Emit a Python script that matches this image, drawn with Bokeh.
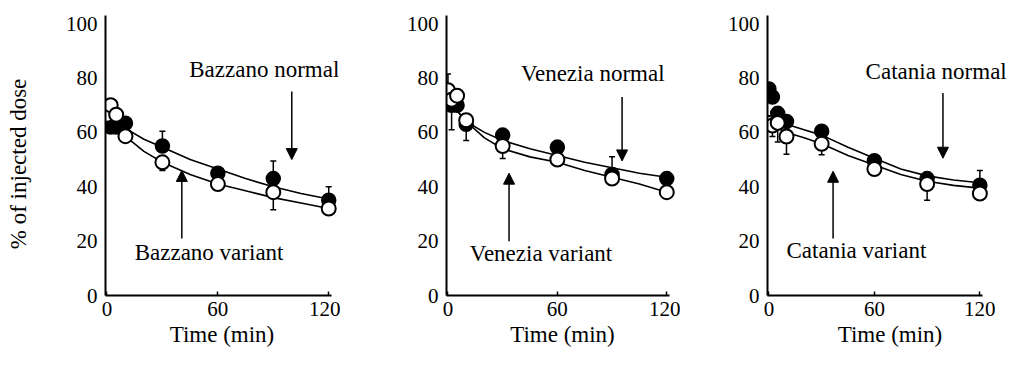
from math import pi
from bokeh.plotting import figure
from bokeh.layouts import row
from bokeh.models import (Range1d, FixedTicker, Label, Arrow, NormalHead,
                          Whisker, ColumnDataSource, TeeHead)
from bokeh.core.properties import value
from bokeh.embed import file_html
from bokeh.resources import INLINE

# ---------------- data ----------------
times = [0, 2, 5, 10, 30, 60, 90, 120]
curve_t = [0, 5, 10, 20, 30, 45, 60, 75, 90, 105, 120]

x_ticks = [0, 60, 120]
y_ticks = [0, 20, 40, 60, 80, 100]

baz_normal = [64, 62, 62, 63.4, 55, 45, 43, 35]
baz_normal_err = [0, 0, 0, 0, 5.4, 0, 6.5, 5]
baz_variant = [66.5, 70, 66.5, 58.6, 49, 41, 38, 32]
baz_variant_err = [0, 0, 0, 0, 3, 0, 6.5, 0]
baz_normal_fit = [63, 62.5, 61.5, 57.5, 54.5, 50, 46.5, 43, 40, 37.5, 35.5]
baz_variant_fit = [63, 61, 58.5, 53, 49, 44.5, 41, 38.5, 36, 34, 32]

ven_normal = [73.5, 70, 70, 63, 59, 54.5, 44.5, 43]
ven_normal_err = [8, 0, 0, 0, 0, 2.5, 6.5, 0]
ven_variant = [75.5, 72, 73.5, 64.5, 55, 50, 43, 38]
ven_variant_err = [0, 11, 0, 7.5, 4.6, 0, 0, 0]
ven_normal_fit = [75, 68, 64, 60, 57, 54, 51.5, 49, 47, 45, 43.5]
ven_variant_fit = [75, 68, 64, 58, 54, 51, 49, 46, 43.5, 41, 38]

cat_normal = [76, 73, 67, 64, 60.4, 49.6, 43, 40.6]
cat_normal_err = [0, 0, 0, 0, 0, 0, 0, 5.4]
cat_variant = [63.5, 62.5, 63.5, 58.5, 55.8, 46.5, 41, 37.5]
cat_variant_err = [0, 4, 7, 6.5, 4, 0, 6, 0]
cat_normal_fit = [66, 64.5, 63, 61, 59, 54.5, 50.5, 46.5, 44, 42.5, 41.5]
cat_variant_fit = [63, 61.5, 60, 58, 55.8, 51.5, 48, 44.5, 42, 40.5, 39.5]

panel_names = ["Bazzano", "Venezia", "Catania"]
y_label = "% of injected dose"
x_label = "Time (min)"

# annotation placement (data units)
normal_text_pos = [(44.5, 83), (40, 81.7), (55, 82.4)]
variant_text_pos = [(15, 16), (12, 15.5), (10, 16.5)]
normal_arrow = [(100, 75, 50), (95.5, 73, 49.5), (99, 74.5, 50.5)]
variant_arrow = [(40.5, 21, 46), (33.5, 20, 45), (36.5, 21, 45.7)]

FONT = "Liberation Serif"
TICK_FS = "21px"
TEXT_FS = "23px"

H = 364
TOP = 15
FRAME_H = 280
X0, X1 = -0.8, 121.5  # extent of the drawn x axis

# pixel geometry: figure left, axis left px, axis right px, figure right
geom = [
    (40, 105, 331, 340),
    (340, 446, 669, 680),
    (680, 767, 982, 1014),
]

# ---- y-axis title in its own narrow strip ----
lab = figure(width=40, height=H, output_backend="svg", toolbar_location=None,
             x_range=Range1d(0, 40), y_range=Range1d(0, H),
             min_border=0)
lab.axis.visible = False
lab.grid.visible = False
lab.outline_line_color = None
lab.text(x=[18], y=[H - 193], text=[y_label], angle=pi / 2,
         text_align="center", text_baseline="middle",
         text_font=value(FONT), text_font_size=value(TEXT_FS),
         text_color="black")

panels = [
    (baz_normal, baz_normal_err, baz_variant, baz_variant_err, baz_normal_fit, baz_variant_fit),
    (ven_normal, ven_normal_err, ven_variant, ven_variant_err, ven_normal_fit, ven_variant_fit),
    (cat_normal, cat_normal_err, cat_variant, cat_variant_err, cat_normal_fit, cat_variant_fit),
]

figs = [lab]
for i, (nv, ne, vv, ve, nf, vf) in enumerate(panels):
    fl, al, ar, fr = geom[i]
    border_right = 2
    frame_right = fr - border_right
    x_end = X0 + (frame_right - al) / (ar - al) * (X1 - X0)
    p = figure(width=fr - fl, height=H, output_backend="svg",
               toolbar_location=None, x_range=Range1d(X0, x_end),
               y_range=Range1d(0, 103),
               min_border_left=al - fl, min_border_right=border_right,
               min_border_top=TOP, min_border_bottom=H - TOP - FRAME_H)
    p.grid.visible = False
    p.outline_line_color = None
    p.background_fill_color = "white"
    p.border_fill_color = "white"

    for ax in (p.xaxis[0], p.yaxis[0]):
        ax.axis_line_width = 2
        ax.axis_line_color = "black"
        ax.major_label_text_font = FONT
        ax.major_label_text_font_size = TICK_FS
        ax.major_label_text_color = "black"
        ax.minor_tick_line_color = None
        ax.major_tick_line_color = "black"
        ax.major_tick_line_width = 1.5
    p.xaxis.bounds = (X0, X1)
    p.xaxis.ticker = FixedTicker(ticks=x_ticks)
    p.yaxis.ticker = FixedTicker(ticks=y_ticks)
    p.xaxis.major_tick_in = 4
    p.xaxis.major_tick_out = 0
    p.yaxis.major_tick_in = 0
    p.yaxis.major_tick_out = 0
    p.yaxis.major_label_standoff = 8
    p.xaxis.major_label_standoff = 6
    p.xaxis.axis_label = x_label
    p.xaxis.axis_label_text_font = FONT
    p.xaxis.axis_label_text_font_size = TEXT_FS
    p.xaxis.axis_label_text_font_style = "normal"
    p.xaxis.axis_label_text_color = "black"
    p.xaxis.axis_label_standoff = 3

    # fitted curves
    p.line(curve_t, nf, line_color="black", line_width=1.6)
    p.line(curve_t, vf, line_color="black", line_width=1.6)

    # error bars (normal: upward, variant: downward)
    src_n = ColumnDataSource(dict(
        t=[t for t, e in zip(times, ne) if e > 0],
        lo=[v for v, e in zip(nv, ne) if e > 0],
        hi=[v + e for v, e in zip(nv, ne) if e > 0]))
    src_v = ColumnDataSource(dict(
        t=[t for t, e in zip(times, ve) if e > 0],
        lo=[v - e for v, e in zip(vv, ve) if e > 0],
        hi=[v for v, e in zip(vv, ve) if e > 0]))
    p.add_layout(Whisker(base="t", lower="lo", upper="hi", source=src_n,
                         line_width=1.5, line_color="black",
                         upper_head=TeeHead(size=6, line_width=1.5),
                         lower_head=None))
    p.add_layout(Whisker(base="t", lower="lo", upper="hi", source=src_v,
                         line_width=1.5, line_color="black",
                         lower_head=TeeHead(size=6, line_width=1.5),
                         upper_head=None))

    # points
    p.scatter(times, nv, marker="circle", size=14, fill_color="black",
              line_color="black", line_width=1.5)
    p.scatter(times, vv, marker="circle", size=14, fill_color="white",
              line_color="black", line_width=2)

    name = panel_names[i]
    nx, ny = normal_text_pos[i]
    vx, vy = variant_text_pos[i]
    p.add_layout(Label(x=nx, y=ny, text=f"{name} normal", text_font=FONT,
                       text_font_size=TEXT_FS, text_align="left",
                       text_baseline="middle", text_color="black"))
    p.add_layout(Label(x=vx, y=vy, text=f"{name} variant", text_font=FONT,
                       text_font_size=TEXT_FS, text_align="left",
                       text_baseline="middle", text_color="black"))
    ax_, y0, y1 = normal_arrow[i]
    p.add_layout(Arrow(x_start=ax_, y_start=y0, x_end=ax_, y_end=y1,
                       line_width=1.5, line_color="black",
                       end=NormalHead(size=11, fill_color="black",
                                      line_color="black")))
    ax_, y0, y1 = variant_arrow[i]
    p.add_layout(Arrow(x_start=ax_, y_start=y0, x_end=ax_, y_end=y1,
                       line_width=1.5, line_color="black",
                       end=NormalHead(size=11, fill_color="black",
                                      line_color="black")))
    figs.append(p)

layout = row(*figs, spacing=0)
open("out.html", "w").write(file_html(layout, INLINE))
